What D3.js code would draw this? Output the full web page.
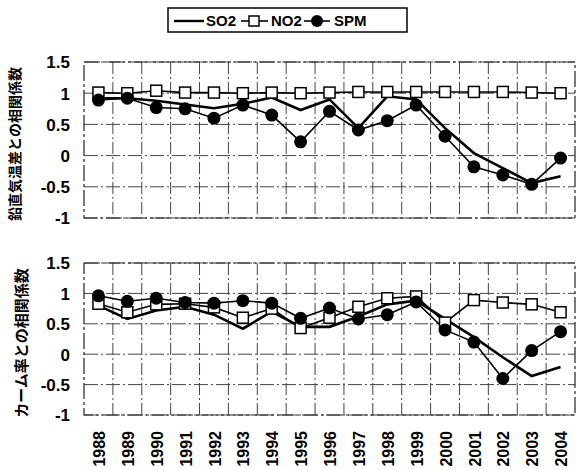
<!DOCTYPE html>
<html>
<head>
<meta charset="utf-8">
<script src="https://cdn.jsdelivr.net/npm/d3@7"></script>
<style>
  body { margin: 0; background: #fff; }
  text { font-family: "Liberation Sans", Arial, sans-serif; font-weight: bold; fill: #000; }
  .jp { font-family: "Noto Sans CJK JP", sans-serif; font-weight: bold; }
</style>
</head>
<body>
<svg id="chart"></svg>
<script>
const width = 579;
const height = 470;

// years on the x axis
const years = ["1988","1989","1990","1991","1992","1993","1994","1995","1996",
  "1997","1998","1999","2000","2001","2002","2003","2004"];
const yTicks = [1.5, 1, 0.5, 0, -0.5, -1];

// top panel: correlation with vertical temperature difference
const topSO2 = [0.92, 0.92, 0.88, 0.82, 0.76, 0.83, 0.93, 0.73, 0.90, 0.44, 0.95, 0.90, 0.44, 0.04, -0.20, -0.44, -0.33];
const topNO2 = [1.01, 1.00, 1.04, 1.01, 1.01, 1.00, 1.01, 1.00, 1.01, 1.02, 1.02, 1.02, 1.02, 1.02, 1.02, 1.01, 1.00];
const topSPM = [0.89, 0.92, 0.77, 0.75, 0.60, 0.81, 0.65, 0.22, 0.71, 0.41, 0.56, 0.81, 0.31, -0.18, -0.31, -0.46, -0.04];

// bottom panel: correlation with calm ratio
const botSO2 = [0.80, 0.58, 0.72, 0.78, 0.65, 0.42, 0.70, 0.45, 0.45, 0.62, 0.82, 0.88, 0.58, 0.28, -0.05, -0.36, -0.21];
const botNO2 = [0.83, 0.69, 0.82, 0.83, 0.77, 0.60, 0.75, 0.43, 0.60, 0.78, 0.92, 0.95, 0.52, 0.89, 0.85, 0.82, 0.69];
const botSPM = [0.96, 0.87, 0.92, 0.85, 0.84, 0.88, 0.84, 0.59, 0.76, 0.58, 0.65, 0.86, 0.40, 0.20, -0.40, 0.06, 0.37];

const topLabel = "鉛直気温差との相関係数";
const botLabel = "カーム率との相関係数";

const svg = d3.select("#chart")
  .attr("width", width)
  .attr("height", height);

const plotLeft = 84, plotRight = 575;

const x = d3.scaleBand()
  .domain(years)
  .range([plotLeft, plotRight])
  .paddingInner(0)
  .paddingOuter(0);
const cx = d => x(d) + x.bandwidth() / 2;

function drawPanel(top, bottom, so2, no2, spm, label, labelX, labelSize, showYears) {
  const y = d3.scaleLinear().domain([-1, 1.5]).range([bottom, top]);
  const g = svg.append("g");

  // horizontal grid
  g.append("g").selectAll("line")
    .data(yTicks)
    .join("line")
    .attr("x1", plotLeft).attr("x2", plotRight)
    .attr("y1", d => y(d)).attr("y2", d => y(d))
    .attr("stroke", "#444")
    .attr("stroke-width", 1)
    .attr("stroke-dasharray", "14,3,2,3");

  // vertical grid at category boundaries
  g.append("g").selectAll("line")
    .data(years.slice(1))
    .join("line")
    .attr("x1", d => x(d)).attr("x2", d => x(d))
    .attr("y1", top).attr("y2", bottom)
    .attr("stroke", "#444")
    .attr("stroke-width", 1)
    .attr("stroke-dasharray", "12,3,2,3");

  // plot border
  g.append("rect")
    .attr("x", plotLeft).attr("y", top)
    .attr("width", plotRight - plotLeft).attr("height", bottom - top)
    .attr("fill", "none")
    .attr("stroke", "#222")
    .attr("stroke-width", 1.2)
    .attr("stroke-dasharray", "16,3,3,3");

  // y axis tick labels
  const yAxis = d3.axisLeft(y)
    .tickValues(yTicks)
    .tickSize(0)
    .tickPadding(0)
    .tickFormat(d => String(d));
  const yAxisG = g.append("g")
    .attr("transform", `translate(${plotLeft - 14},0)`)
    .call(yAxis);
  yAxisG.select(".domain").remove();
  yAxisG.selectAll("text")
    .attr("font-size", 17)
    .attr("font-family", null)
    .attr("dy", "0.35em");

  // y axis title
  g.append("text")
    .attr("class", "jp")
    .attr("transform", `translate(${labelX},${(top + bottom) / 2 + 4}) rotate(-90)`)
    .attr("text-anchor", "middle")
    .attr("dy", "0.35em")
    .attr("font-size", labelSize)
    .text(label);

  const line = d3.line()
    .x((d, i) => cx(years[i]))
    .y(d => y(d));

  g.append("path").datum(so2)
    .attr("d", line).attr("fill", "none")
    .attr("stroke", "#000").attr("stroke-width", 2.6);
  g.append("path").datum(no2)
    .attr("d", line).attr("fill", "none")
    .attr("stroke", "#000").attr("stroke-width", 1.6);
  g.append("path").datum(spm)
    .attr("d", line).attr("fill", "none")
    .attr("stroke", "#000").attr("stroke-width", 1.6);

  const sq = 11;
  g.append("g").selectAll("rect")
    .data(no2)
    .join("rect")
    .attr("x", (d, i) => cx(years[i]) - sq / 2)
    .attr("y", d => y(d) - sq / 2)
    .attr("width", sq).attr("height", sq)
    .attr("fill", "#fff")
    .attr("stroke", "#000")
    .attr("stroke-width", 1.5);

  g.append("g").selectAll("circle")
    .data(spm)
    .join("circle")
    .attr("cx", (d, i) => cx(years[i]))
    .attr("cy", d => y(d))
    .attr("r", 6.5)
    .attr("fill", "#000");

  if (showYears) {
    g.append("g").selectAll("text")
      .data(years)
      .join("text")
      .attr("transform", d => `translate(${cx(d) + 1},${bottom + 16}) rotate(-90)`)
      .attr("text-anchor", "end")
      .attr("dy", "0.35em")
      .attr("font-size", 16)
      .text(d => d);
  }
}

drawPanel(62, 218, topSO2, topNO2, topSPM, topLabel, 15, 14, false);
drawPanel(263, 415, botSO2, botNO2, botSPM, botLabel, 22, 15, true);

// legend
const legend = svg.append("g");
legend.append("rect")
  .attr("x", 168).attr("y", 8)
  .attr("width", 239).attr("height", 24)
  .attr("fill", "#fff")
  .attr("stroke", "#000")
  .attr("stroke-width", 1.5);

const ly = 21;
legend.append("line")
  .attr("x1", 174).attr("x2", 204).attr("y1", ly).attr("y2", ly)
  .attr("stroke", "#000").attr("stroke-width", 2.4);
legend.append("text").attr("x", 206).attr("y", ly).attr("dy", "0.35em")
  .attr("font-size", 15).text("SO2");

legend.append("line")
  .attr("x1", 241).attr("x2", 268).attr("y1", ly).attr("y2", ly)
  .attr("stroke", "#000").attr("stroke-width", 1.6);
legend.append("rect")
  .attr("x", 254 - 5).attr("y", ly - 5).attr("width", 10).attr("height", 10)
  .attr("fill", "#fff").attr("stroke", "#000").attr("stroke-width", 1.5);
legend.append("text").attr("x", 271).attr("y", ly).attr("dy", "0.35em")
  .attr("font-size", 15).text("NO2");

legend.append("line")
  .attr("x1", 304).attr("x2", 330).attr("y1", ly).attr("y2", ly)
  .attr("stroke", "#000").attr("stroke-width", 1.6);
legend.append("circle")
  .attr("cx", 317).attr("cy", ly).attr("r", 6)
  .attr("fill", "#000");
legend.append("text").attr("x", 334).attr("y", ly).attr("dy", "0.35em")
  .attr("font-size", 15).text("SPM");
</script>
</body>
</html>
